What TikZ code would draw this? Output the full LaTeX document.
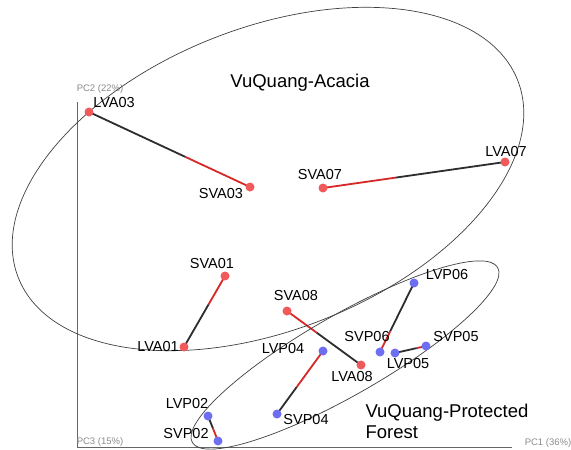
\documentclass[tikz,border=0pt]{standalone}
\usepackage{fontspec}
\setmainfont{Liberation Sans}
\usepackage{tikz}
\usepackage{xcolor}
\usetikzlibrary{calc,backgrounds}

\definecolor{ptred}{RGB}{240,90,90}
\definecolor{ptblue}{RGB}{110,110,240}
\definecolor{lnred}{RGB}{215,40,40}
\definecolor{lnblack}{RGB}{45,45,45}

\begin{document}
\begin{tikzpicture}[x=1pt,y=-1pt,
	pt/.style={circle,inner sep=0pt,minimum size=9pt},
	acacia/.style={pt,fill=ptred},
	forest/.style={pt,fill=ptblue},
	lab/.style={font=\fontsize{14.5}{16}\selectfont},
	grp/.style={font=\fontsize{18.5}{21}\selectfont,align=left},
	axlab/.style={font=\fontsize{9.5}{11}\selectfont,text=black!45},
	lpart/.style={lnblack,line width=1.8pt},
	spart/.style={lnred,line width=1.8pt},
	hull/.style={black!75,line width=0.7pt}]
\useasboundingbox (0,0) rectangle (571,450);

% axes
\draw[black!60,line width=0.9pt](77,102)--(77,447)--(512,447);
\node[axlab] (pc2) at (100,89){PC2 (22\%)};
\node[axlab] (pc3) at (100,442){PC3 (15\%)};
\node[axlab] (pc1) at (548,443){PC1 (36\%)};

% groups
\draw[hull,rotate around={21.6:(268,179)}](268,179) ellipse [x radius=268.5pt,y radius=151pt];
\draw[hull,rotate around={29.8:(345,355)}](345,355) ellipse [x radius=176pt,y radius=40pt];
\node[grp] (gacacia) at (300,83){VuQuang-Acacia};
\node[grp,anchor=west] (gforest) at (362,421){VuQuang-Protected\\Forest};

% samples
\node[acacia] (LVA03) at (89,112){};
\node[acacia] (SVA03) at (250,187){};
\node[acacia] (SVA07) at (323,188){};
\node[acacia] (LVA07) at (505,162){};
\node[acacia] (SVA01) at (225,276){};
\node[acacia] (LVA01) at (184,347){};
\node[acacia] (SVA08) at (287,311){};
\node[acacia] (LVA08) at (361,365){};
\node[forest] (LVP06) at (414,283){};
\node[forest] (SVP06) at (380,352){};
\node[forest] (LVP05) at (395,353){};
\node[forest] (SVP05) at (426,346){};
\node[forest] (LVP04) at (323,351){};
\node[forest] (SVP04) at (277,414){};
\node[forest] (LVP02) at (208,416){};
\node[forest] (SVP02) at (218,441){};

\node[lab] (tLVA03) at (114,103){LVA03};
\node[lab] (tSVA03) at (221,194){SVA03};
\node[lab] (tSVA07) at (320,175){SVA07};
\node[lab] (tLVA07) at (506,152){LVA07};
\node[lab] (tSVA01) at (212,264){SVA01};
\node[lab] (tLVA01) at (158,347){LVA01};
\node[lab] (tSVA08) at (296,296){SVA08};
\node[lab] (tLVA08) at (352,377){LVA08};
\node[lab] (tLVP06) at (447,275){LVP06};
\node[lab] (tSVP06) at (367,337){SVP06};
\node[lab] (tLVP05) at (408,364){LVP05};
\node[lab] (tSVP05) at (456,337){SVP05};
\node[lab] (tLVP04) at (283,349){LVP04};
\node[lab] (tSVP04) at (306,420){SVP04};
\node[lab] (tLVP02) at (187,404){LVP02};
\node[lab] (tSVP02) at (186,434){SVP02};

% pairs, black end first
\begin{scope}[on background layer]
\fill[white](0,0) rectangle (571,450);
\foreach\a/\b/\f in {LVA03/SVA03/0.6,LVA07/SVA07/0.6,LVA01/SVA01/0.6,
	LVA08/SVA08/0.6,LVP06/SVP06/0.7,LVP05/SVP05/0.7,SVP04/LVP04/0.43,
	LVP02/SVP02/0.5}{
	\draw[lpart](\a.center)--($(\a.center)!\f!(\b.center)$);
	\draw[spart]($(\a.center)!\f!(\b.center)$)--(\b.center);}
\end{scope}
\end{tikzpicture}
\end{document}
